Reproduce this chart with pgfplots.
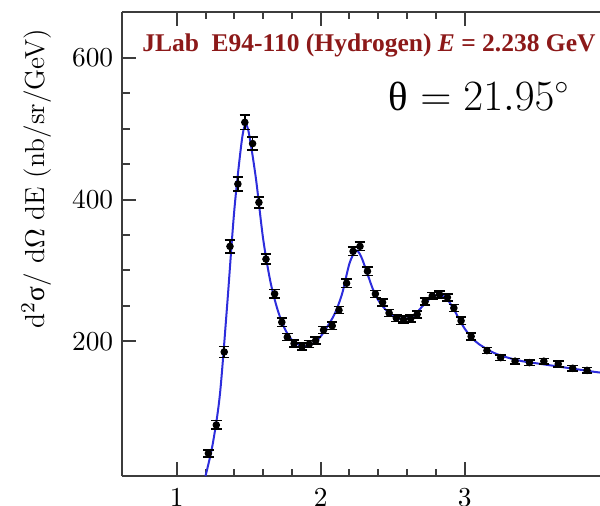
\documentclass[border=0pt]{standalone}
\usepackage{fontspec}
\usepackage{pgfplots}
\pgfplotsset{compat=1.18}
\usepackage{pgfplotstable}
\newfontfamily\timesfont{Liberation Serif}
\definecolor{fitblue}{RGB}{45,45,220}
\definecolor{titlered}{RGB}{140,25,25}
\definecolor{axgray}{RGB}{60,60,60}

\pgfplotstableread{
x y e
1.22 42 5
1.275 82 6
1.33 185 8
1.37 334 9
1.425 422 10
1.473 509 10
1.527 479 9
1.571 396 8
1.62 316 7
1.68 267 6
1.73 227 6
1.768 206 5
1.815 197 5
1.87 193 5
1.92 196 5
1.965 201 5
2.02 216 5
2.08 222 5
2.127 244 5
2.18 282 6
2.225 327 6
2.273 334 6
2.325 299 6
2.38 267 5
2.43 255 5
2.475 240 5
2.525 233 5
2.575 231 5
2.625 232 5
2.67 238 5
2.725 256 5
2.775 264 5
2.825 266 5
2.88 262 5
2.925 247 5
2.975 229 5
3.045 207 5
3.155 187 4
3.25 177 4
3.35 172 4
3.45 170 4
3.55 172 4
3.65 168 4
3.75 162 4
3.85 159 4
}\datatab

\pgfplotstableread{
x y
1.20 10
1.25 55
1.30 125
1.35 250
1.40 385
1.45 480
1.475 505
1.50 495
1.55 430
1.60 345
1.65 285
1.70 245
1.75 218
1.80 202
1.85 195
1.90 193
1.95 197
2.00 207
2.05 222
2.10 240
2.15 268
2.20 310
2.245 328
2.28 320
2.32 298
2.36 275
2.40 258
2.45 245
2.50 236
2.55 232
2.60 232
2.65 237
2.70 248
2.75 259
2.80 265
2.84 265
2.88 259
2.92 247
2.96 232
3.00 218
3.05 205
3.10 196
3.20 184
3.30 177
3.40 172
3.50 169
3.60 166
3.70 163
3.80 160
3.90 157
3.94 156
}\fittab

\begin{document}
\begin{tikzpicture}
\path[use as bounding box] (-48.8pt,-11.6pt) rectangle (191.2pt,190.4pt);
\begin{axis}[
  scale only axis,
  width=191.2pt, height=185.7pt,
  xmin=0.62, xmax=3.94, ymin=10, ymax=665,
  axis x line*=box, axis y line*=left,
  xtick={1,2,3}, minor x tick num=4,
  ytick={200,400,600}, minor y tick num=3,
  tick align=inside,
  major tick length=5.5pt, minor tick length=3pt,
  axis line style={line width=0.8pt, axgray},
  tick style={line width=0.8pt, axgray},
  ticklabel style={font=\fontsize{10.5}{12}\selectfont},
  xticklabel style={yshift=-1.5pt},
  ylabel={d$^2${\timesfont σ}/ d$\Omega$ dE (nb/sr/GeV)},
  ylabel style={at={(axis description cs:-0.179,0.641)}, anchor=center, rotate=0,
    font=\fontsize{11}{13}\selectfont},
]
\addplot[fitblue, line width=0.8pt, smooth, tension=0.5] table[x=x,y=y] {\fittab};
\addplot[black, only marks, mark=*, mark size=1.3pt,
  error bars/.cd, y dir=both, y explicit,
  error bar style={line width=0.6pt, black},
  error mark options={rotate=90, mark size=2.1pt, line width=0.6pt}]
  table[x=x, y=y, y error=e] {\datatab};
\node[text=titlered, font=\timesfont\fontsize{10.2}{12}\selectfont\bfseries, anchor=center] at (axis cs:2.335,617)
  {JLab\hspace{0.5em}E94-110 (Hydrogen) \textit{E} = 2.238 GeV};
\node[font=\fontsize{16.3}{19}\selectfont, anchor=center] at (axis cs:3.10,546) {{\timesfont θ} $= 21.95^{\circ}$};
\end{axis}
\end{tikzpicture}
\end{document}
